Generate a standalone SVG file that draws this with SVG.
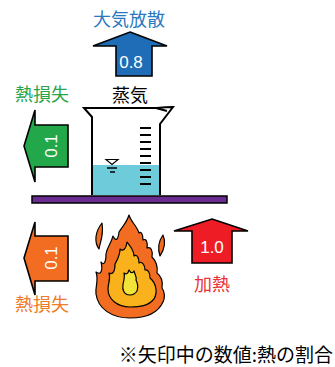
<svg xmlns="http://www.w3.org/2000/svg" width="335" height="367" viewBox="0 0 335 367">
  <style>
    .arrow { stroke: #000; stroke-width: 1.6; stroke-linejoin: miter; }
    .num { font-family: "Liberation Sans", Arial, sans-serif; font-size: 17px; fill: #fff; text-anchor: middle; }
    .jp { font-family: "Noto Sans CJK JP", "Noto Sans", sans-serif; font-size: 18px; text-anchor: middle; }
    .line { stroke: #000; stroke-width: 2; fill: none; }
  </style>
  <rect width="335" height="367" fill="#fff"/>

  <!-- beaker with water on a hot plate -->
  <g id="beaker">
    <rect x="92" y="165" width="68" height="30" fill="#6ecbd9"/>
    <path class="line" d="M92,195 L92,117 L84,108 L157,108 Q166,107 173,107 L160,124 L160,195"/>
    <path class="line" stroke-width="1.2" d="M156,108 L167,111"/>
    <g class="line" stroke-width="2.2">
      <path d="M140,128H151M140,135H151M140,142H151M140,149H151M140,156H151M140,163H151M140,170H151M140,177H151M140,184H151"/>
    </g>
    <path d="M106,159.5 L118,159.5 L112,164.5 Z" fill="none" stroke="#000" stroke-width="1.2"/>
    <path d="M107,168H117M110,172H115" stroke="#000" stroke-width="1.4"/>
  </g>
  <g id="steam-label">
    <text class="jp" x="130" y="102" fill="#000">蒸気</text>
  </g>

  <g id="plate">
    <rect x="32" y="196" width="195" height="7" fill="#6a2c91" stroke="#000" stroke-width="1.5"/>
  </g>

  <!-- flame -->
  <g id="flame" stroke="#000" stroke-width="1.2" stroke-linejoin="round">
    <path fill="#f26c22" d="M130,318 C112,318 98,309 96,294 C95,286 99,281 96,272 C101,276 103,270 101,262 C104,266 106,262 106,254 C107,247 111,244 113,236 C116,242 118,240 119,232 C123,226 127,222 129,215 C131,222 137,226 139,233 C141,231 143,234 143,240 C146,238 148,242 147,248 C151,246 153,251 152,257 C156,261 158,266 157,273 C161,276 163,282 162,288 C165,292 165,298 163,302 C158,313 146,318 130,318 Z"/>
    <path fill="#f26c22" d="M102,223 C95,232 94,242 99,249 C100,242 104,236 102,223 Z"/>
    <path fill="#f26c22" d="M163,235 C158,242 158,250 160,256 C164,250 166,242 163,235 Z"/>
    <path fill="#f9b21c" d="M130,307 C117,307 108,299 108,289 C108,283 111,279 109,273 C113,275 115,271 115,264 C117,260 120,256 120,249 C123,252 126,249 127,242 C130,246 134,250 134,256 C137,254 139,258 139,263 C142,261 145,265 145,270 C148,269 150,273 150,278 C156,283 158,292 154,299 C148,306 140,307 130,307 Z"/>
    <path fill="#f2e33a" d="M130,295 C124,295 122,290 123,284 C124,280 125,277 124,273 C127,275 128,273 129,270 C131,274 133,273 134,271 C135,275 137,277 136,280 C138,284 138,288 137,291 C135,294 133,295 130,295 Z"/>
  </g>

  <!-- heat flow arrows -->
  <g id="connectors">
    <g id="arrow-atmosphere">
      <polygon class="arrow" fill="#1f6db6" points="130,32 167,46 152,46 152,76 116,76 116,46 93,46"/>
      <text class="num" x="131" y="68">0.8</text>
      <text class="jp" x="129" y="26" fill="#2a78c0">大気放散</text>
    </g>
    <g id="arrow-loss-upper">
      <polygon class="arrow" fill="#22a84a" points="24,146 35,110 35,125 68,125 68,167 35,167 35,182"/>
      <text class="num" transform="translate(51,146) rotate(-90)" y="6">0.1</text>
      <text class="jp" x="42" y="101" fill="#2aa54a">熱損失</text>
    </g>
    <g id="arrow-loss-lower">
      <polygon class="arrow" fill="#f26c22" points="24,258 35,222 35,236 68,236 68,281 35,281 35,295"/>
      <text class="num" transform="translate(51,258) rotate(-90)" y="6">0.1</text>
      <text class="jp" x="42" y="311" fill="#f07b2a">熱損失</text>
    </g>
    <g id="arrow-heating">
      <polygon class="arrow" fill="#ee1c25" points="212,219 248,231 232,231 232,263 192,263 192,231 174,231"/>
      <text class="num" x="212" y="253">1.0</text>
      <text class="jp" x="212" y="291" fill="#e8333a">加熱</text>
    </g>
  </g>

  <g id="note">
    <text x="333" y="362" font-family="Noto Sans CJK JP, Noto Sans, sans-serif" font-size="19" text-anchor="end" fill="#000">※矢印中の数値:熱の割合</text>
  </g>
</svg>
